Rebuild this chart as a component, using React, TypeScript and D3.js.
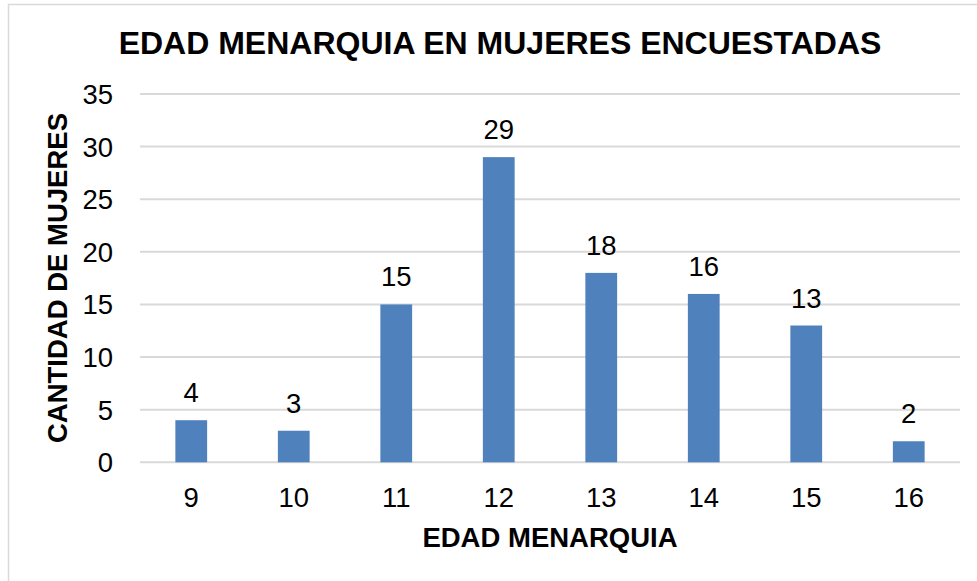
import React from 'react';
import * as d3 from 'd3';

const edades = ['9', '10', '11', '12', '13', '14', '15', '16'];
const mujeres = [4, 3, 15, 29, 18, 16, 13, 2];
const yTicks = [0, 5, 10, 15, 20, 25, 30, 35];

const W = 977;
const H = 581;
const FONT = "'Liberation Sans', Arial, sans-serif";

const App: React.FC = () => {
  const ref = React.useRef<SVGSVGElement>(null);

  React.useEffect(() => {
    const svg = d3.select(ref.current);
    svg.selectAll('*').remove();

    const x = d3.scaleBand().domain(edades).range([140, 960]).paddingInner(0.69).paddingOuter(0.345);
    const y = d3.scaleLinear().domain([0, 35]).range([462.3, 94]);

    // chart frame
    svg
      .append('rect')
      .attr('x', 8.5)
      .attr('y', 4.5)
      .attr('width', 1000)
      .attr('height', 1000)
      .attr('fill', 'white')
      .attr('stroke', '#D9D9D9')
      .attr('stroke-width', 1.5);

    // gridlines
    svg
      .selectAll('line.grid')
      .data(yTicks)
      .enter()
      .append('line')
      .attr('x1', 140)
      .attr('x2', 960)
      .attr('y1', (d) => y(d))
      .attr('y2', (d) => y(d))
      .attr('stroke', '#D9D9D9')
      .attr('stroke-width', 2);

    // y tick labels
    svg
      .selectAll('text.ytick')
      .data(yTicks)
      .enter()
      .append('text')
      .attr('x', 113)
      .attr('y', (d) => y(d) + 10)
      .attr('text-anchor', 'end')
      .attr('font-family', FONT)
      .attr('font-size', 27.5)
      .attr('fill', '#000')
      .text((d) => d);

    // bars
    svg
      .selectAll('rect.bar')
      .data(mujeres)
      .enter()
      .append('rect')
      .attr('x', (_, i) => x(edades[i])!)
      .attr('y', (d) => y(d))
      .attr('width', x.bandwidth())
      .attr('height', (d) => y(0) - y(d))
      .attr('fill', '#4F81BD');

    // value labels
    svg
      .selectAll('text.val')
      .data(mujeres)
      .enter()
      .append('text')
      .attr('x', (_, i) => x(edades[i])! + x.bandwidth() / 2)
      .attr('y', (d) => y(d) - 18)
      .attr('text-anchor', 'middle')
      .attr('font-family', FONT)
      .attr('font-size', 27.5)
      .attr('fill', '#000')
      .text((d) => d);

    // x tick labels
    svg
      .selectAll('text.xtick')
      .data(edades)
      .enter()
      .append('text')
      .attr('x', (d) => x(d)! + x.bandwidth() / 2)
      .attr('y', 507)
      .attr('text-anchor', 'middle')
      .attr('font-family', FONT)
      .attr('font-size', 27.5)
      .attr('fill', '#000')
      .text((d) => d);

    // title
    svg
      .append('text')
      .attr('x', 500)
      .attr('y', 54)
      .attr('text-anchor', 'middle')
      .attr('font-family', FONT)
      .attr('font-weight', 'bold')
      .attr('font-size', 32)
      .attr('fill', '#000')
      .text('EDAD MENARQUIA EN MUJERES ENCUESTADAS');

    // x axis title
    svg
      .append('text')
      .attr('x', 550)
      .attr('y', 547)
      .attr('text-anchor', 'middle')
      .attr('font-family', FONT)
      .attr('font-weight', 'bold')
      .attr('font-size', 27.5)
      .attr('fill', '#000')
      .text('EDAD MENARQUIA');

    // y axis title
    svg
      .append('text')
      .attr('transform', 'translate(67,278) rotate(-90)')
      .attr('text-anchor', 'middle')
      .attr('font-family', FONT)
      .attr('font-weight', 'bold')
      .attr('font-size', 27.5)
      .attr('fill', '#000')
      .text('CANTIDAD DE MUJERES');
  }, []);

  return (
    <svg
      ref={ref}
      width={W}
      height={H}
      style={{ position: 'absolute', left: 0, top: 0, background: 'white' }}
    />
  );
};

export default App;
